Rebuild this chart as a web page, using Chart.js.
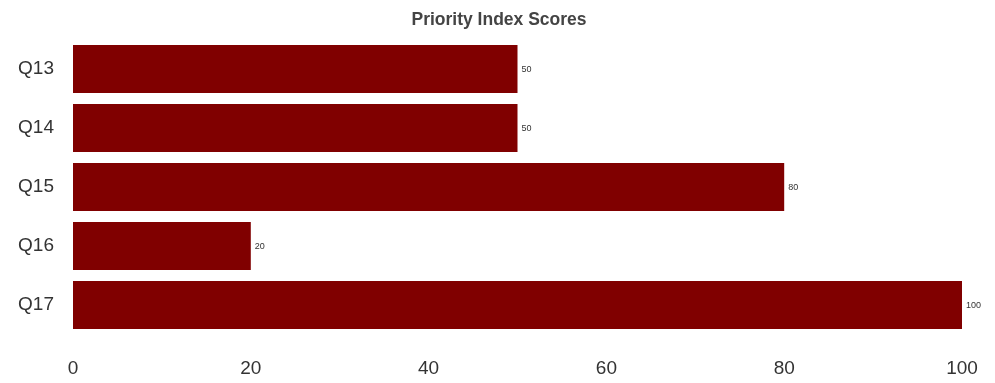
<!DOCTYPE html>
<html>
<head>
<meta charset="utf-8">
<script src="https://cdn.jsdelivr.net/npm/chart.js@4/dist/chart.umd.min.js"></script>
<style>
html,body{margin:0;padding:0;background:#fff;}
#wrap{width:995px;height:383px;position:relative;}
</style>
</head>
<body>
<div id="wrap"><canvas id="c" width="995" height="383"></canvas></div>
<script>
const categories = ["Q13", "Q14", "Q15", "Q16", "Q17"];
const scores = [50, 50, 80, 20, 100];
const xTicks = [0, 20, 40, 60, 80, 100];

const valueLabels = {
  id: 'valueLabels',
  afterDatasetsDraw(chart) {
    const ctx = chart.ctx;
    const meta = chart.getDatasetMeta(0);
    ctx.save();
    ctx.font = '9px "Liberation Sans", Arial, sans-serif';
    ctx.fillStyle = '#333';
    ctx.textAlign = 'left';
    ctx.textBaseline = 'middle';
    meta.data.forEach((bar, i) => {
      ctx.fillText(String(scores[i]), bar.x + 4, bar.y + 1);
    });
    ctx.restore();
  }
};

new Chart(document.getElementById('c'), {
  type: 'bar',
  data: {
    labels: categories,
    datasets: [{
      data: scores,
      backgroundColor: '#800000',
      borderWidth: 0,
      barPercentage: 0.81,
      categoryPercentage: 1.0
    }]
  },
  options: {
    indexAxis: 'y',
    responsive: false,
    animation: false,
    layout: { padding: { left: 3, right: 0, top: 0, bottom: 0 } },
    plugins: {
      legend: { display: false },
      tooltip: { enabled: false },
      title: {
        display: true,
        text: 'Priority Index Scores',
        color: '#444',
        font: { family: '"Liberation Sans", Arial, sans-serif', size: 17.5, weight: 'bold', lineHeight: 1.2 },
        padding: { top: 9.5, bottom: 9 }
      }
    },
    scales: {
      x: {
        min: 0, max: 100,
        afterBuildTicks(scale) { scale.ticks = xTicks.map(v => ({ value: v })); },
        grid: { display: false, drawTicks: false },
        border: { display: false },
        ticks: {
          color: '#333',
          padding: 23,
          font: { family: '"Liberation Sans", Arial, sans-serif', size: 19 }
        },
        afterFit(scale) { scale.height = 48.5; scale.paddingRight = 33; scale.paddingLeft = 0; }
      },
      y: {
        grid: { display: false, drawTicks: false },
        border: { display: false },
        ticks: {
          color: '#333',
          padding: 19,
          font: { family: '"Liberation Sans", Arial, sans-serif', size: 19 }
        },
        afterFit(scale) { scale.width = 70; }
      }
    }
  },
  plugins: [valueLabels]
});
</script>
</body>
</html>
